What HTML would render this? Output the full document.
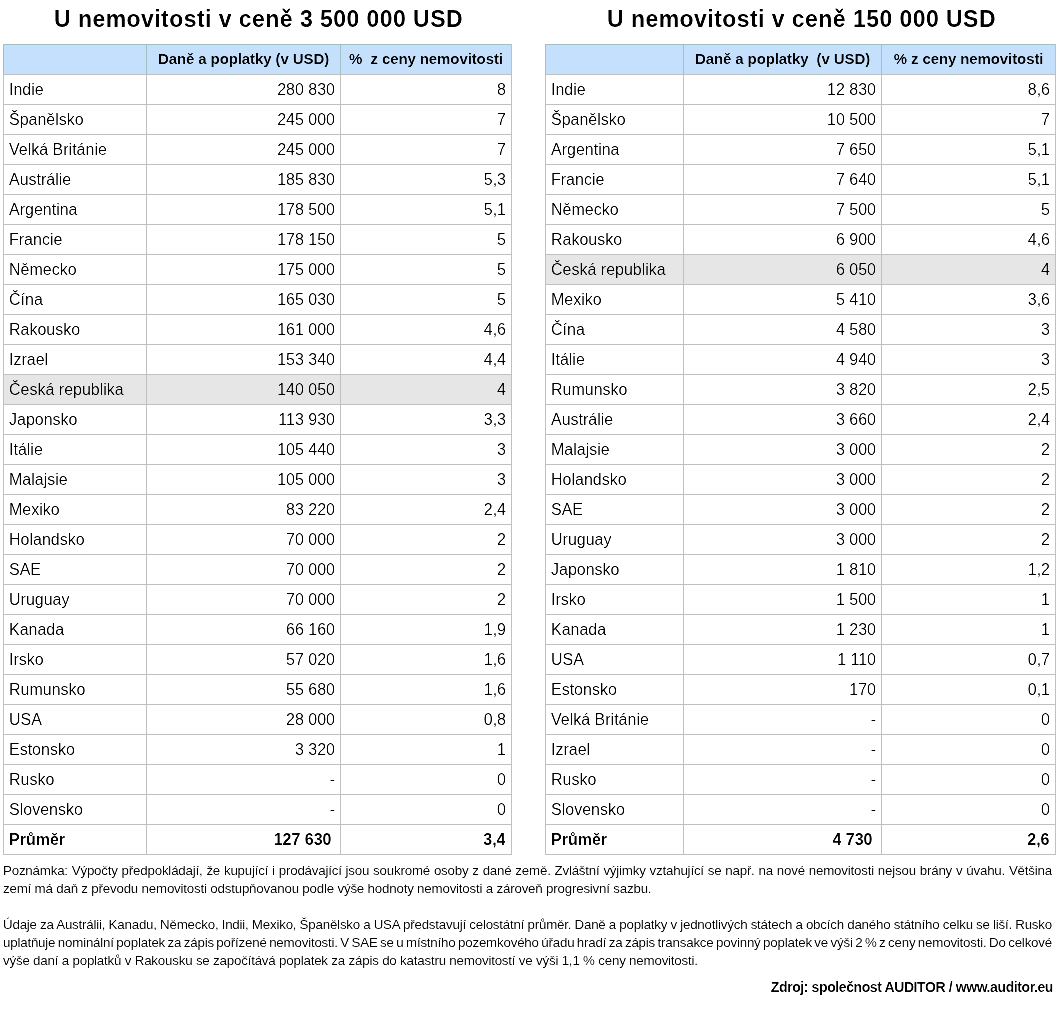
<!DOCTYPE html>
<html><head><meta charset="utf-8"><style>
*{margin:0;padding:0;box-sizing:border-box}
html,body{width:1060px;height:1010px;background:#fff;overflow:hidden}
body{position:relative;font-family:"Liberation Sans",sans-serif;color:#000}
.layer{position:absolute;left:0;top:0;width:1060px;height:1010px}
.title{position:absolute;top:1px;height:36px;line-height:36px;font-size:23px;letter-spacing:0.45px;font-weight:bold;text-align:center;white-space:nowrap}
.hbg{position:absolute;background:#c4e0fc}
.hl{position:absolute;background:#e6e6e6}
.hline{position:absolute;height:1px;background:#c0c0c0}
.htop{background:#a3c0c0}
.vline{position:absolute;width:1px;background:#c0c0c0}
.vh{background:#a3c0c0}
.vhr{background:#c0c0c0}
.hd{position:absolute;height:29px;line-height:29px;font-size:15px;letter-spacing:-0.1px;font-weight:bold;text-align:center;white-space:pre}
.cell{position:absolute;height:29px;line-height:29px;font-size:16px;white-space:nowrap}
.cell.r{text-align:right}
.bl .cell{font-weight:bold}
.note{position:absolute;left:3px;width:1048px;font-size:13.33px;letter-spacing:-0.2px;height:18px;line-height:18px;white-space:nowrap}
.src{position:absolute;right:7px;top:978px;font-size:14px;letter-spacing:-0.4px;font-weight:bold;line-height:18px;white-space:nowrap}
#reg{filter:url(#f2)}
#bld{filter:url(#f2)}
#nts{filter:url(#f3)}
#ttl{filter:url(#f2)}
</style></head>
<body>
<svg width="0" height="0" style="position:absolute"><defs>
<filter id="f2" x="0" y="0" width="100%" height="100%"><feComponentTransfer><feFuncA type="linear" slope="1.6" intercept="-0.45"/></feComponentTransfer></filter>
<filter id="f3" x="0" y="0" width="100%" height="100%"><feComponentTransfer><feFuncA type="linear" slope="1.35" intercept="-0.25"/></feComponentTransfer></filter>
</defs></svg>
<div class="layer">
<div class="hbg" style="left:3px;top:44px;width:509px;height:31px"></div>
<div class="hl" style="left:3px;top:374px;width:509px;height:31px"></div>
<div class="hline" style="left:3px;top:74px;width:509px"></div>
<div class="hline" style="left:3px;top:104px;width:509px"></div>
<div class="hline" style="left:3px;top:134px;width:509px"></div>
<div class="hline" style="left:3px;top:164px;width:509px"></div>
<div class="hline" style="left:3px;top:194px;width:509px"></div>
<div class="hline" style="left:3px;top:224px;width:509px"></div>
<div class="hline" style="left:3px;top:254px;width:509px"></div>
<div class="hline" style="left:3px;top:284px;width:509px"></div>
<div class="hline" style="left:3px;top:314px;width:509px"></div>
<div class="hline" style="left:3px;top:344px;width:509px"></div>
<div class="hline" style="left:3px;top:374px;width:509px"></div>
<div class="hline" style="left:3px;top:404px;width:509px"></div>
<div class="hline" style="left:3px;top:434px;width:509px"></div>
<div class="hline" style="left:3px;top:464px;width:509px"></div>
<div class="hline" style="left:3px;top:494px;width:509px"></div>
<div class="hline" style="left:3px;top:524px;width:509px"></div>
<div class="hline" style="left:3px;top:554px;width:509px"></div>
<div class="hline" style="left:3px;top:584px;width:509px"></div>
<div class="hline" style="left:3px;top:614px;width:509px"></div>
<div class="hline" style="left:3px;top:644px;width:509px"></div>
<div class="hline" style="left:3px;top:674px;width:509px"></div>
<div class="hline" style="left:3px;top:704px;width:509px"></div>
<div class="hline" style="left:3px;top:734px;width:509px"></div>
<div class="hline" style="left:3px;top:764px;width:509px"></div>
<div class="hline" style="left:3px;top:794px;width:509px"></div>
<div class="hline" style="left:3px;top:824px;width:509px"></div>
<div class="hline" style="left:3px;top:854px;width:509px"></div>
<div class="hline htop" style="left:3px;top:44px;width:508px"></div>
<div class="vline vh" style="left:3px;top:44px;height:30px"></div>
<div class="vline" style="left:3px;top:74px;height:781px"></div>
<div class="vline vh" style="left:146px;top:44px;height:30px"></div>
<div class="vline" style="left:146px;top:74px;height:781px"></div>
<div class="vline vh" style="left:340px;top:44px;height:30px"></div>
<div class="vline" style="left:340px;top:74px;height:781px"></div>
<div class="vline vhr" style="left:511px;top:44px;height:30px"></div>
<div class="vline" style="left:511px;top:74px;height:781px"></div>
<div class="hbg" style="left:545px;top:44px;width:511px;height:31px"></div>
<div class="hl" style="left:545px;top:254px;width:511px;height:31px"></div>
<div class="hline" style="left:545px;top:74px;width:511px"></div>
<div class="hline" style="left:545px;top:104px;width:511px"></div>
<div class="hline" style="left:545px;top:134px;width:511px"></div>
<div class="hline" style="left:545px;top:164px;width:511px"></div>
<div class="hline" style="left:545px;top:194px;width:511px"></div>
<div class="hline" style="left:545px;top:224px;width:511px"></div>
<div class="hline" style="left:545px;top:254px;width:511px"></div>
<div class="hline" style="left:545px;top:284px;width:511px"></div>
<div class="hline" style="left:545px;top:314px;width:511px"></div>
<div class="hline" style="left:545px;top:344px;width:511px"></div>
<div class="hline" style="left:545px;top:374px;width:511px"></div>
<div class="hline" style="left:545px;top:404px;width:511px"></div>
<div class="hline" style="left:545px;top:434px;width:511px"></div>
<div class="hline" style="left:545px;top:464px;width:511px"></div>
<div class="hline" style="left:545px;top:494px;width:511px"></div>
<div class="hline" style="left:545px;top:524px;width:511px"></div>
<div class="hline" style="left:545px;top:554px;width:511px"></div>
<div class="hline" style="left:545px;top:584px;width:511px"></div>
<div class="hline" style="left:545px;top:614px;width:511px"></div>
<div class="hline" style="left:545px;top:644px;width:511px"></div>
<div class="hline" style="left:545px;top:674px;width:511px"></div>
<div class="hline" style="left:545px;top:704px;width:511px"></div>
<div class="hline" style="left:545px;top:734px;width:511px"></div>
<div class="hline" style="left:545px;top:764px;width:511px"></div>
<div class="hline" style="left:545px;top:794px;width:511px"></div>
<div class="hline" style="left:545px;top:824px;width:511px"></div>
<div class="hline" style="left:545px;top:854px;width:511px"></div>
<div class="hline htop" style="left:545px;top:44px;width:510px"></div>
<div class="vline vh" style="left:545px;top:44px;height:30px"></div>
<div class="vline" style="left:545px;top:74px;height:781px"></div>
<div class="vline vh" style="left:683px;top:44px;height:30px"></div>
<div class="vline" style="left:683px;top:74px;height:781px"></div>
<div class="vline vh" style="left:881px;top:44px;height:30px"></div>
<div class="vline" style="left:881px;top:74px;height:781px"></div>
<div class="vline vhr" style="left:1055px;top:44px;height:30px"></div>
<div class="vline" style="left:1055px;top:74px;height:781px"></div>
</div>
<div class="layer" id="ttl">
<div class="title" style="left:4px;width:509px">U nemovitosti v ceně 3 500 000 USD</div>
<div class="title" style="left:546px;width:511px">U nemovitosti v ceně 150 000 USD</div>
</div>
<div class="layer" id="reg">
<div class="cell" style="left:9px;top:75px">Indie</div>
<div class="cell r" style="left:147px;top:75px;width:188px">280 830</div>
<div class="cell r" style="left:341px;top:75px;width:165px">8</div>
<div class="cell" style="left:9px;top:105px">Španělsko</div>
<div class="cell r" style="left:147px;top:105px;width:188px">245 000</div>
<div class="cell r" style="left:341px;top:105px;width:165px">7</div>
<div class="cell" style="left:9px;top:135px">Velká Británie</div>
<div class="cell r" style="left:147px;top:135px;width:188px">245 000</div>
<div class="cell r" style="left:341px;top:135px;width:165px">7</div>
<div class="cell" style="left:9px;top:165px">Austrálie</div>
<div class="cell r" style="left:147px;top:165px;width:188px">185 830</div>
<div class="cell r" style="left:341px;top:165px;width:165px">5,3</div>
<div class="cell" style="left:9px;top:195px">Argentina</div>
<div class="cell r" style="left:147px;top:195px;width:188px">178 500</div>
<div class="cell r" style="left:341px;top:195px;width:165px">5,1</div>
<div class="cell" style="left:9px;top:225px">Francie</div>
<div class="cell r" style="left:147px;top:225px;width:188px">178 150</div>
<div class="cell r" style="left:341px;top:225px;width:165px">5</div>
<div class="cell" style="left:9px;top:255px">Německo</div>
<div class="cell r" style="left:147px;top:255px;width:188px">175 000</div>
<div class="cell r" style="left:341px;top:255px;width:165px">5</div>
<div class="cell" style="left:9px;top:285px">Čína</div>
<div class="cell r" style="left:147px;top:285px;width:188px">165 030</div>
<div class="cell r" style="left:341px;top:285px;width:165px">5</div>
<div class="cell" style="left:9px;top:315px">Rakousko</div>
<div class="cell r" style="left:147px;top:315px;width:188px">161 000</div>
<div class="cell r" style="left:341px;top:315px;width:165px">4,6</div>
<div class="cell" style="left:9px;top:345px">Izrael</div>
<div class="cell r" style="left:147px;top:345px;width:188px">153 340</div>
<div class="cell r" style="left:341px;top:345px;width:165px">4,4</div>
<div class="cell" style="left:9px;top:375px">Česká republika</div>
<div class="cell r" style="left:147px;top:375px;width:188px">140 050</div>
<div class="cell r" style="left:341px;top:375px;width:165px">4</div>
<div class="cell" style="left:9px;top:405px">Japonsko</div>
<div class="cell r" style="left:147px;top:405px;width:188px">113 930</div>
<div class="cell r" style="left:341px;top:405px;width:165px">3,3</div>
<div class="cell" style="left:9px;top:435px">Itálie</div>
<div class="cell r" style="left:147px;top:435px;width:188px">105 440</div>
<div class="cell r" style="left:341px;top:435px;width:165px">3</div>
<div class="cell" style="left:9px;top:465px">Malajsie</div>
<div class="cell r" style="left:147px;top:465px;width:188px">105 000</div>
<div class="cell r" style="left:341px;top:465px;width:165px">3</div>
<div class="cell" style="left:9px;top:495px">Mexiko</div>
<div class="cell r" style="left:147px;top:495px;width:188px">83 220</div>
<div class="cell r" style="left:341px;top:495px;width:165px">2,4</div>
<div class="cell" style="left:9px;top:525px">Holandsko</div>
<div class="cell r" style="left:147px;top:525px;width:188px">70 000</div>
<div class="cell r" style="left:341px;top:525px;width:165px">2</div>
<div class="cell" style="left:9px;top:555px">SAE</div>
<div class="cell r" style="left:147px;top:555px;width:188px">70 000</div>
<div class="cell r" style="left:341px;top:555px;width:165px">2</div>
<div class="cell" style="left:9px;top:585px">Uruguay</div>
<div class="cell r" style="left:147px;top:585px;width:188px">70 000</div>
<div class="cell r" style="left:341px;top:585px;width:165px">2</div>
<div class="cell" style="left:9px;top:615px">Kanada</div>
<div class="cell r" style="left:147px;top:615px;width:188px">66 160</div>
<div class="cell r" style="left:341px;top:615px;width:165px">1,9</div>
<div class="cell" style="left:9px;top:645px">Irsko</div>
<div class="cell r" style="left:147px;top:645px;width:188px">57 020</div>
<div class="cell r" style="left:341px;top:645px;width:165px">1,6</div>
<div class="cell" style="left:9px;top:675px">Rumunsko</div>
<div class="cell r" style="left:147px;top:675px;width:188px">55 680</div>
<div class="cell r" style="left:341px;top:675px;width:165px">1,6</div>
<div class="cell" style="left:9px;top:705px">USA</div>
<div class="cell r" style="left:147px;top:705px;width:188px">28 000</div>
<div class="cell r" style="left:341px;top:705px;width:165px">0,8</div>
<div class="cell" style="left:9px;top:735px">Estonsko</div>
<div class="cell r" style="left:147px;top:735px;width:188px">3 320</div>
<div class="cell r" style="left:341px;top:735px;width:165px">1</div>
<div class="cell" style="left:9px;top:765px">Rusko</div>
<div class="cell r" style="left:147px;top:765px;width:188px">-</div>
<div class="cell r" style="left:341px;top:765px;width:165px">0</div>
<div class="cell" style="left:9px;top:795px">Slovensko</div>
<div class="cell r" style="left:147px;top:795px;width:188px">-</div>
<div class="cell r" style="left:341px;top:795px;width:165px">0</div>
<div class="cell" style="left:551px;top:75px">Indie</div>
<div class="cell r" style="left:684px;top:75px;width:192px">12 830</div>
<div class="cell r" style="left:882px;top:75px;width:168px">8,6</div>
<div class="cell" style="left:551px;top:105px">Španělsko</div>
<div class="cell r" style="left:684px;top:105px;width:192px">10 500</div>
<div class="cell r" style="left:882px;top:105px;width:168px">7</div>
<div class="cell" style="left:551px;top:135px">Argentina</div>
<div class="cell r" style="left:684px;top:135px;width:192px">7 650</div>
<div class="cell r" style="left:882px;top:135px;width:168px">5,1</div>
<div class="cell" style="left:551px;top:165px">Francie</div>
<div class="cell r" style="left:684px;top:165px;width:192px">7 640</div>
<div class="cell r" style="left:882px;top:165px;width:168px">5,1</div>
<div class="cell" style="left:551px;top:195px">Německo</div>
<div class="cell r" style="left:684px;top:195px;width:192px">7 500</div>
<div class="cell r" style="left:882px;top:195px;width:168px">5</div>
<div class="cell" style="left:551px;top:225px">Rakousko</div>
<div class="cell r" style="left:684px;top:225px;width:192px">6 900</div>
<div class="cell r" style="left:882px;top:225px;width:168px">4,6</div>
<div class="cell" style="left:551px;top:255px">Česká republika</div>
<div class="cell r" style="left:684px;top:255px;width:192px">6 050</div>
<div class="cell r" style="left:882px;top:255px;width:168px">4</div>
<div class="cell" style="left:551px;top:285px">Mexiko</div>
<div class="cell r" style="left:684px;top:285px;width:192px">5 410</div>
<div class="cell r" style="left:882px;top:285px;width:168px">3,6</div>
<div class="cell" style="left:551px;top:315px">Čína</div>
<div class="cell r" style="left:684px;top:315px;width:192px">4 580</div>
<div class="cell r" style="left:882px;top:315px;width:168px">3</div>
<div class="cell" style="left:551px;top:345px">Itálie</div>
<div class="cell r" style="left:684px;top:345px;width:192px">4 940</div>
<div class="cell r" style="left:882px;top:345px;width:168px">3</div>
<div class="cell" style="left:551px;top:375px">Rumunsko</div>
<div class="cell r" style="left:684px;top:375px;width:192px">3 820</div>
<div class="cell r" style="left:882px;top:375px;width:168px">2,5</div>
<div class="cell" style="left:551px;top:405px">Austrálie</div>
<div class="cell r" style="left:684px;top:405px;width:192px">3 660</div>
<div class="cell r" style="left:882px;top:405px;width:168px">2,4</div>
<div class="cell" style="left:551px;top:435px">Malajsie</div>
<div class="cell r" style="left:684px;top:435px;width:192px">3 000</div>
<div class="cell r" style="left:882px;top:435px;width:168px">2</div>
<div class="cell" style="left:551px;top:465px">Holandsko</div>
<div class="cell r" style="left:684px;top:465px;width:192px">3 000</div>
<div class="cell r" style="left:882px;top:465px;width:168px">2</div>
<div class="cell" style="left:551px;top:495px">SAE</div>
<div class="cell r" style="left:684px;top:495px;width:192px">3 000</div>
<div class="cell r" style="left:882px;top:495px;width:168px">2</div>
<div class="cell" style="left:551px;top:525px">Uruguay</div>
<div class="cell r" style="left:684px;top:525px;width:192px">3 000</div>
<div class="cell r" style="left:882px;top:525px;width:168px">2</div>
<div class="cell" style="left:551px;top:555px">Japonsko</div>
<div class="cell r" style="left:684px;top:555px;width:192px">1 810</div>
<div class="cell r" style="left:882px;top:555px;width:168px">1,2</div>
<div class="cell" style="left:551px;top:585px">Irsko</div>
<div class="cell r" style="left:684px;top:585px;width:192px">1 500</div>
<div class="cell r" style="left:882px;top:585px;width:168px">1</div>
<div class="cell" style="left:551px;top:615px">Kanada</div>
<div class="cell r" style="left:684px;top:615px;width:192px">1 230</div>
<div class="cell r" style="left:882px;top:615px;width:168px">1</div>
<div class="cell" style="left:551px;top:645px">USA</div>
<div class="cell r" style="left:684px;top:645px;width:192px">1 110</div>
<div class="cell r" style="left:882px;top:645px;width:168px">0,7</div>
<div class="cell" style="left:551px;top:675px">Estonsko</div>
<div class="cell r" style="left:684px;top:675px;width:192px">170</div>
<div class="cell r" style="left:882px;top:675px;width:168px">0,1</div>
<div class="cell" style="left:551px;top:705px">Velká Británie</div>
<div class="cell r" style="left:684px;top:705px;width:192px">-</div>
<div class="cell r" style="left:882px;top:705px;width:168px">0</div>
<div class="cell" style="left:551px;top:735px">Izrael</div>
<div class="cell r" style="left:684px;top:735px;width:192px">-</div>
<div class="cell r" style="left:882px;top:735px;width:168px">0</div>
<div class="cell" style="left:551px;top:765px">Rusko</div>
<div class="cell r" style="left:684px;top:765px;width:192px">-</div>
<div class="cell r" style="left:882px;top:765px;width:168px">0</div>
<div class="cell" style="left:551px;top:795px">Slovensko</div>
<div class="cell r" style="left:684px;top:795px;width:192px">-</div>
<div class="cell r" style="left:882px;top:795px;width:168px">0</div>
</div>
<div class="layer bl" id="bld">
<div class="hd" style="left:147px;top:44px;width:193px">Daně a poplatky (v USD)</div>
<div class="hd" style="left:341px;top:44px;width:170px">%  z ceny nemovitosti</div>
<div class="cell" style="left:9px;top:825px">Průměr</div>
<div class="cell r" style="left:147px;top:825px;width:184.5px">127 630</div>
<div class="cell r" style="left:341px;top:825px;width:164.5px">3,4</div>
<div class="hd" style="left:684px;top:44px;width:197px">Daně a poplatky  (v USD)</div>
<div class="hd" style="left:882px;top:44px;width:173px">% z ceny nemovitosti</div>
<div class="cell" style="left:551px;top:825px">Průměr</div>
<div class="cell r" style="left:684px;top:825px;width:188.5px">4 730</div>
<div class="cell r" style="left:882px;top:825px;width:167.5px">2,6</div>
<div class="src">Zdroj: společnost AUDITOR / www.auditor.eu</div>
</div>
<div class="layer" id="nts">
<div class="note" id="n0" style="top:862px;word-spacing:0.356px">Poznámka: Výpočty předpokládají, že kupující i prodávající jsou soukromé osoby z dané země. Zvláštní výjimky vztahující se např. na nové nemovitosti nejsou brány v úvahu. Většina</div>
<div class="note" id="n1" style="top:880px">zemí má daň z převodu nemovitosti odstupňovanou podle výše hodnoty nemovitosti a zároveň progresivní sazbu.</div>
<div class="note" id="n2" style="top:916px;word-spacing:-0.276px">Údaje za Austrálii, Kanadu, Německo, Indii, Mexiko, Španělsko a USA představují celostátní průměr. Daně a poplatky v jednotlivých státech a obcích daného státního celku se liší. Rusko</div>
<div class="note" id="n3" style="top:934px;word-spacing:-1.004px">uplatňuje nominální poplatek za zápis pořízené nemovitosti. V SAE se u místního pozemkového úřadu hradí za zápis transakce povinný poplatek ve výši 2 % z ceny nemovitosti. Do celkové</div>
<div class="note" id="n4" style="top:952px">výše daní a poplatků v Rakousku se započítává poplatek za zápis do katastru nemovitostí ve výši 1,1 % ceny nemovitosti.</div>
</div>
</body></html>
